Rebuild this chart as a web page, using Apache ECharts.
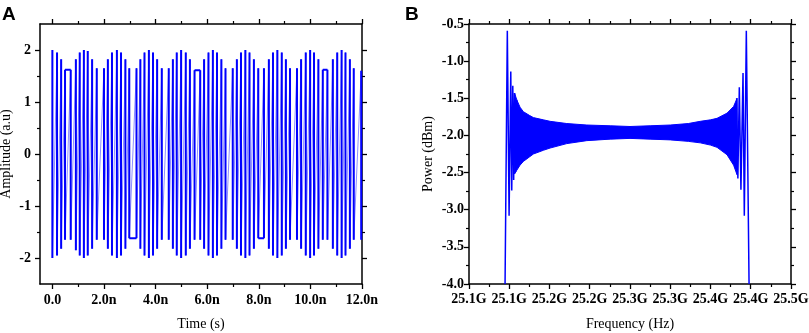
<!DOCTYPE html>
<html>
<head>
<meta charset="utf-8">
<script src="https://cdn.jsdelivr.net/npm/echarts@6/dist/echarts.min.js"></script>
<style>
  html, body { margin: 0; padding: 0; background: #fff; }
  #main { width: 809px; height: 333px; }
</style>
</head>
<body>
<div id="main"></div>
<script>
// ---- panel A: time trace, one vertical stroke per visible peak (ns, a.u.)
const strokeTime = [
  0.00, 0.18, 0.34, 0.49,
  0.71, 0.91, 1.06, 1.22, 1.37, 1.54, 1.72,
  2.00, 2.15, 2.31, 2.50, 2.66, 2.83, 2.98,
  3.26, 3.41, 3.57, 3.74, 3.90, 4.06, 4.24,
  4.51, 4.67, 4.82, 4.99, 5.17, 5.33, 5.51,
  5.73, 5.88, 6.05, 6.22, 6.38, 6.55, 6.71,
  6.99, 7.15, 7.31, 7.48, 7.64, 7.81, 7.98,
  8.20, 8.39, 8.55, 8.72, 8.89, 9.05, 9.21,
  9.48, 9.64, 9.82, 9.99, 10.14, 10.31, 10.48,
  10.66, 10.87, 11.04, 11.21, 11.36, 11.53, 11.68,
  11.97
]
const strokeTop = [
  2.00, 1.95, 1.82, 1.62,
  1.62, 1.82, 1.95, 2.00, 1.98, 1.82, 1.65,
  1.65, 1.82, 1.95, 2.00, 1.95, 1.82, 1.65,
  1.65, 1.82, 1.95, 2.00, 1.95, 1.82, 1.65,
  1.65, 1.82, 1.95, 2.00, 1.95, 1.82, 1.61,
  1.61, 1.82, 1.95, 2.00, 1.95, 1.82, 1.65,
  1.65, 1.82, 1.95, 2.00, 1.95, 1.82, 1.65,
  1.65, 1.82, 1.95, 2.00, 1.95, 1.82, 1.65,
  1.65, 1.82, 1.95, 2.00, 1.95, 1.82, 1.62,
  1.62, 1.82, 1.95, 2.00, 1.95, 1.82, 1.65,
  1.60
]
const strokeBottom = [
  -2.00, -1.95, -1.82, -1.65,
  -1.65, -1.85, -1.95, -2.00, -1.95, -1.82, -1.65,
  -1.65, -1.82, -1.95, -2.00, -1.95, -1.82, -1.62,
  -1.62, -1.82, -1.95, -2.00, -1.95, -1.82, -1.65,
  -1.65, -1.82, -1.95, -2.00, -1.95, -1.82, -1.65,
  -1.65, -1.82, -1.95, -2.00, -1.95, -1.82, -1.65,
  -1.65, -1.82, -1.95, -2.00, -1.95, -1.82, -1.62,
  -1.62, -1.82, -1.95, -2.00, -1.95, -1.82, -1.65,
  -1.65, -1.82, -1.95, -2.00, -1.95, -1.82, -1.65,
  -1.65, -1.82, -1.95, -2.00, -1.95, -1.82, -1.65,
  -1.65
]
// flat parts of the trace: [start, end, level]
const flatSegments = [
  [0.49, 0.71, 1.62],
  [2.98, 3.26, -1.62],
  [5.51, 5.73, 1.61],
  [7.98, 8.20, -1.62],
  [10.48, 10.66, 1.62]
]
const timeTicks = [0, 2, 4, 6, 8, 10, 12]
const timeTickLabels = ['0.0', '2.0n', '4.0n', '6.0n', '8.0n', '10.0n', '12.0n']
const timeMinorTicks = [1, 3, 5, 7, 9, 11]
const ampTicks = [-2, -1, 0, 1, 2]
const ampMinorTicks = [-1.5, -0.5, 0.5, 1.5]

// ---- panel B: spectrum (GHz, dBm)
// edge ripples drawn as a line
const leftSpikeFreq = [25.1448, 25.1476, 25.1498, 25.1519, 25.1531, 25.1544, 25.1555, 25.1566, 25.1580, 25.1593]
const leftSpikePower = [-4.00, -0.59, -3.08, -1.14, -2.74, -1.33, -2.60, -1.43, -2.49, -1.52]
const rightSpikeFreq = [25.4325, 25.4340, 25.4358, 25.4378, 25.4404, 25.4420, 25.4445, 25.4479]
const rightSpikePower = [-1.50, -2.58, -1.35, -2.73, -1.16, -3.08, -0.59, -4.00]
// dense ripple band: upper and lower envelope
const bandFreq = [25.1566, 25.1593, 25.1634, 25.1675, 25.1750, 25.1800, 25.1924, 25.2007, 25.2215, 25.2464,
  25.2754, 25.3000, 25.3250, 25.3500, 25.3724, 25.3873, 25.4000, 25.4081, 25.4205, 25.4287, 25.4330]
const bandUpper = [-1.43, -1.52, -1.62, -1.68, -1.73, -1.76, -1.79, -1.81, -1.84, -1.86,
  -1.87, -1.88, -1.87, -1.86, -1.84, -1.81, -1.79, -1.77, -1.70, -1.61, -1.50]
const bandLower = [-2.52, -2.47, -2.40, -2.35, -2.29, -2.25, -2.20, -2.17, -2.11, -2.07,
  -2.05, -2.04, -2.05, -2.06, -2.08, -2.10, -2.13, -2.16, -2.26, -2.40, -2.53]
const freqTicks = [25.10, 25.15, 25.20, 25.25, 25.30, 25.35, 25.40, 25.45, 25.50]
const freqTickLabels = ['25.1G', '25.1G', '25.2G', '25.2G', '25.3G', '25.3G', '25.4G', '25.4G', '25.5G']
const freqMinorTicks = [25.125, 25.175, 25.225, 25.275, 25.325, 25.375, 25.425, 25.475]
const powerTicks = [-4.0, -3.5, -3.0, -2.5, -2.0, -1.5, -1.0, -0.5]
const powerMinorTicks = [-3.75, -3.25, -2.75, -2.25, -1.75, -1.25, -0.75]

const blue = '#0000ff'
const serif = 'Liberation Serif'

// four axes per side pair: main (line + labels + major ticks), minor ticks, mirrored major, mirrored minor
function makeAxes(dim, gridIndex, min, max, major, minor, labelFn, name, nameGap, labelMargin) {
  const mainPos = dim === 'x' ? 'bottom' : 'left'
  const oppPos = dim === 'x' ? 'top' : 'right'
  const line = {show: true, onZero: false, lineStyle: {color: '#000', width: 1.5}}
  const noLine = {show: false, onZero: false}
  const majorTick = {show: true, inside: false, length: 5, customValues: major, lineStyle: {color: '#000', width: 1.3}}
  const minorTick = {show: true, inside: false, length: 3, customValues: minor, lineStyle: {color: '#000', width: 1.2}}
  const base = {gridIndex, type: 'value', min, max, splitLine: {show: false}}
  return [
    {
      ...base, position: mainPos,
      name, nameLocation: 'middle', nameGap,
      nameTextStyle: {fontFamily: serif, fontSize: 14, color: '#000'},
      axisLine: line, axisTick: majorTick,
      axisLabel: {
        show: true, customValues: major, formatter: labelFn, margin: labelMargin,
        fontFamily: serif, fontWeight: 'bold', fontSize: 14, color: '#000'
      }
    },
    {...base, position: mainPos, axisLine: noLine, axisTick: minorTick, axisLabel: {show: false}},
    {...base, position: oppPos, axisLine: line, axisTick: majorTick, axisLabel: {show: false}},
    {...base, position: oppPos, axisLine: noLine, axisTick: minorTick, axisLabel: {show: false}}
  ]
}

// trace pieces
const strokeData = []
strokeTime.forEach((t, i) => {
  strokeData.push([t, strokeTop[i]], [t, strokeBottom[i]], [t, null])
})
flatSegments.forEach(s => {
  strokeData.push([s[0], s[2]], [s[1], s[2]], [s[1], null])
})
const sawData = []
strokeTime.forEach((t, i) => {
  sawData.push([t, strokeTop[i]], [t, strokeBottom[i]])
})

const chart = echarts.init(document.getElementById('main'))
chart.setOption({
  animation: false,
  title: [
    {text: 'A', left: 2, top: 5, padding: 0, textStyle: {fontFamily: 'Liberation Sans', fontWeight: 'bold', fontSize: 19, color: '#000'}},
    {text: 'B', left: 405, top: 5, padding: 0, textStyle: {fontFamily: 'Liberation Sans', fontWeight: 'bold', fontSize: 19, color: '#000'}}
  ],
  grid: [
    {left: 40, top: 24, width: 322, height: 260, outerBoundsMode: 'none', containLabel: false},
    {left: 469, top: 24, width: 322, height: 260, outerBoundsMode: 'none', containLabel: false}
  ],
  xAxis: [
    ...makeAxes('x', 0, -0.48, 12, timeTicks, timeMinorTicks,
      v => timeTickLabels[timeTicks.indexOf(Math.round(v))], 'Time (s)', 33, 9),
    ...makeAxes('x', 1, 25.10, 25.50, freqTicks, freqMinorTicks,
      v => freqTickLabels[Math.round((v - 25.10) / 0.05)], 'Frequency (Hz)', 33, 8)
  ],
  yAxis: [
    ...makeAxes('y', 0, -2.5, 2.5, ampTicks, ampMinorTicks,
      v => String(Math.round(v)), 'Amplitude (a.u)', 27, 9),
    ...makeAxes('y', 1, -4.0, -0.5, powerTicks, powerMinorTicks,
      v => v.toFixed(1), 'Power (dBm)', 34, 5)
  ],
  series: [
    {
      type: 'line', xAxisIndex: 0, yAxisIndex: 0, data: sawData,
      showSymbol: false, silent: true,
      lineStyle: {color: blue, width: 1, opacity: 0.45}
    },
    {
      type: 'line', xAxisIndex: 0, yAxisIndex: 0, data: strokeData,
      showSymbol: false, connectNulls: false, silent: true,
      lineStyle: {color: blue, width: 2}
    },
    {
      type: 'custom', xAxisIndex: 4, yAxisIndex: 4, data: [[25.3, -2]], silent: true,
      renderItem: (params, api) => {
        const pts = []
        bandFreq.forEach((f, i) => pts.push(api.coord([f, bandUpper[i]])))
        for (let i = bandFreq.length - 1; i >= 0; i--) pts.push(api.coord([bandFreq[i], bandLower[i]]))
        return {type: 'polygon', shape: {points: pts}, style: {fill: blue, stroke: blue, lineWidth: 1}}
      }
    },
    {
      type: 'line', xAxisIndex: 4, yAxisIndex: 4,
      data: leftSpikeFreq.map((f, i) => [f, leftSpikePower[i]]),
      showSymbol: false, silent: true, lineStyle: {color: blue, width: 1.5}
    },
    {
      type: 'line', xAxisIndex: 4, yAxisIndex: 4,
      data: rightSpikeFreq.map((f, i) => [f, rightSpikePower[i]]),
      showSymbol: false, silent: true, lineStyle: {color: blue, width: 1.5}
    }
  ]
})
</script>
</body>
</html>
